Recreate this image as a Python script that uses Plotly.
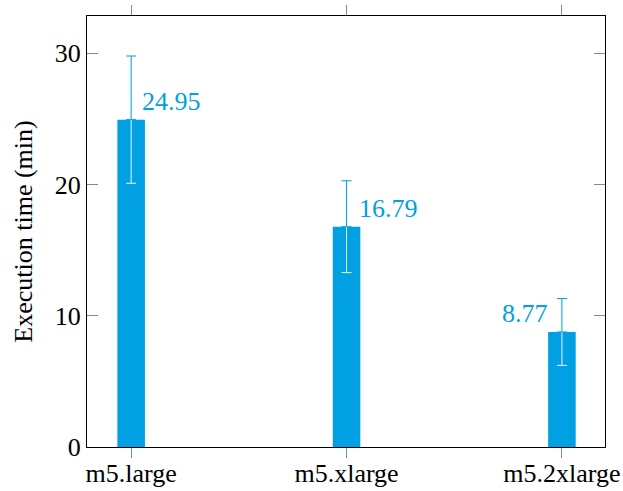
import plotly.graph_objects as go

categories = ["m5.large", "m5.xlarge", "m5.2xlarge"]
exec_time = [24.95, 16.79, 8.77]
errors = [4.85, 3.5, 2.55]
label_text = ["24.95", "16.79", "8.77"]
y_ticks = [0, 10, 20, 30]

CYAN = "#00A0E3"
FONT = "Liberation Serif"
FS = 26
xs = list(range(len(categories)))

fig = go.Figure()
fig.add_trace(go.Bar(
    x=xs, y=exec_time, width=0.128, marker=dict(color=CYAN, line=dict(width=0)),
    error_y=dict(type="data", array=errors, color="#e8f6fc", thickness=1, width=5),
    showlegend=False,
))
fig.add_trace(go.Scatter(
    x=xs, y=exec_time, mode="markers", marker=dict(size=1, opacity=0),
    error_y=dict(type="data", array=errors, arrayminus=[0] * len(xs), color=CYAN, thickness=1, width=5),
    showlegend=False, hoverinfo="skip",
))

shifts = [(9, "left"), (10, "left"), (-12, "right")]
for i, (v, t) in enumerate(zip(exec_time, label_text)):
    dx, anc = shifts[i]
    fig.add_annotation(x=xs[i], y=v, text=t, showarrow=False, xanchor=anc, yanchor="middle",
                       xshift=dx, yshift=18, font=dict(family=FONT, size=FS, color=CYAN))

fig.update_layout(
    width=623, height=491, margin=dict(l=87, r=18, t=16, b=44, autoexpand=False),
    plot_bgcolor="white", paper_bgcolor="white",
    font=dict(family=FONT, size=FS, color="black"),
    xaxis=dict(range=[-0.205, 2.2], tickvals=xs, ticktext=categories, showgrid=False, zeroline=False,
               showline=True, linecolor="black", linewidth=1, mirror="ticks", automargin=False,
               ticks="outside", ticklen=10, tickcolor="#888888", tickwidth=1,
               ticklabelstandoff=-7, tickfont=dict(family=FONT, size=FS)),
    yaxis=dict(range=[0, 32.85], tickvals=y_ticks, showgrid=False, zeroline=False,
               showline=True, linecolor="black", linewidth=1, mirror="ticks", automargin=False,
               ticks="inside", ticklen=11, tickcolor="#888888", tickwidth=1,
               tickfont=dict(family=FONT, size=FS),
               title=dict(text="Execution time (min)", font=dict(family=FONT, size=FS), standoff=14)),
)
fig.write_html("out.html", config={"displayModeBar": False},
               post_script="document.body.style.margin='0';document.body.style.overflow='hidden';")
